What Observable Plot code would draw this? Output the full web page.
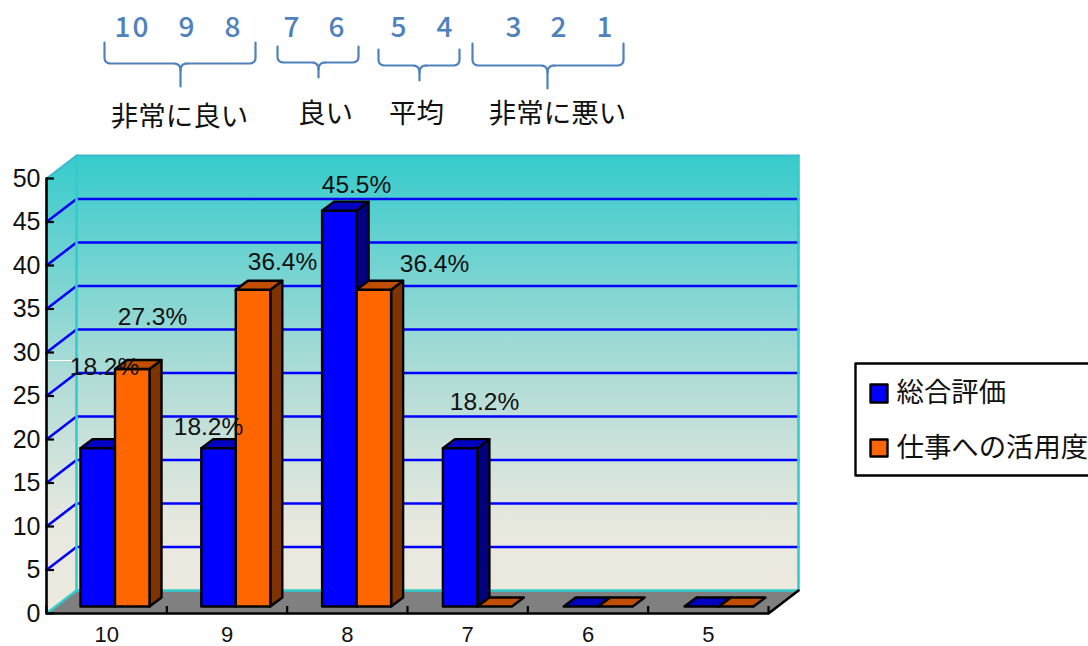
<!DOCTYPE html>
<html><head><meta charset="utf-8">
<style>html,body{margin:0;padding:0;background:#fff;overflow:hidden}svg{display:block}</style>
<script src="https://cdn.jsdelivr.net/npm/d3@7"></script>
<script src="https://cdn.jsdelivr.net/npm/@observablehq/plot@0.6"></script>
</head><body><div id="chart"></div>
<script>
// ---- data ----
const categories = ["10","9","8","7","6","5"];
const overall = [18.2,18.2,45.5,18.2,0,0];
const usefulness = [27.3,36.4,36.4,0,0,0];
const yTicks = [0,5,10,15,20,25,30,35,40,45,50];
const seriesNames = ["総合評価","仕事への活用度"];
const ratingDigits = ["10","9","8","7","6","5","4","3","2","1"];
const groupNames = ["非常に良い","良い","平均","非常に悪い"];
const valueLabels = ["18.2%","27.3%","18.2%","36.4%","45.5%","36.4%","18.2%"];

// ---- layout (pixels → data units) ----
const L=46,R=768,T=178,B=613;
const xp=p=>(p-L)/((R-L)/6), yp=p=>(B-p)/((B-T)/50);
const wallDx=xp(L+30), wallDy=yp(B-23);
const barDx=xp(L+12), barDy=yp(B-9), barW=xp(L+34.5), baseY=yp(B-7);
const barLeft=(i,s)=>xp(80+120.8*i)+s*barW;
const digitPx=[132,187,233,292,337,399,445,514,559,605];
const groupPx=[[179,117],[325,114],[416,114],[557,114]];
const labelPx=[[104,367],[152,317],[208,427],[282,262],[356,185],[434,264],[484,402]];
const braces=[[104,255,180,42,63,86],[277,358,318,46,62,77],[378,459,419,49,65,80],[472,623,547,43,65,88]];

const poly=(id,fill,pts)=>[...pts,pts[0]].map(([x,y])=>({id,fill,x,y}));
const colors=[["#0000ff","#000080","#0000c0"],["#ff6600","#7f3300","#c04d00"]];
const faces=[];
categories.forEach((c,i)=>{
  [overall[i],usefulness[i]].forEach((v,s)=>{
    const x0=barLeft(i,s),x1=x0+barW,y0=baseY,y1=baseY+v,[f,sd,t]=colors[s],k=`${i}-${s}`;
    if(v>0){
      faces.push(...poly(k+"s",sd,[[x1,y0],[x1+barDx,y0+barDy],[x1+barDx,y1+barDy],[x1,y1]]));
      faces.push(...poly(k+"f",f,[[x0,y0],[x1,y0],[x1,y1],[x0,y1]]));
    }
    faces.push(...poly(k+"t",t,[[x0,y1],[x1,y1],[x1+barDx,y1+barDy],[x0+barDx,y1+barDy]]));
  });
});
const grid=yTicks.filter(v=>v>0&&v<50).flatMap(v=>[
  {id:v,x:0,y:v},{id:v,x:wallDx,y:v+wallDy},{id:v,x:6+wallDx,y:v+wallDy}]);
const q=(a,b,c)=>d3.range(0,1.01,0.125).map(t=>[(1-t)*(1-t)*a[0]+2*t*(1-t)*b[0]+t*t*c[0],(1-t)*(1-t)*a[1]+2*t*(1-t)*b[1]+t*t*c[1]]);
const braceLines=braces.flatMap(([a,b,m,t,c,e],i)=>{
  const left=[[a,t],...q([a,c-6],[a,c],[a+7,c]),...q([m-7,c],[m,c],[m,c+7]),[m,e]];
  const right=[[m+7,c],...q([b-7,c],[b,c],[b,c-6]),[b,t]];
  const inner=q([m+7,c],[m,c],[m,c+7]);
  return [
    ...left.map(([x,y])=>({id:"b"+i+"a",x:xp(x),y:yp(y)})),
    ...right.map(([x,y])=>({id:"b"+i+"b",x:xp(x),y:yp(y)})),
    ...inner.map(([x,y])=>({id:"b"+i+"c",x:xp(x),y:yp(y)})),
  ];
});
const rectPx=(id,fill,x0,y0,x1,y1)=>poly(id,fill,[[xp(x0),yp(y0)],[xp(x1),yp(y0)],[xp(x1),yp(y1)],[xp(x0),yp(y1)]]);
const FONT='"Noto Sans CJK JP","Noto Sans",sans-serif';
const NUM='"Liberation Sans",Arial,sans-serif';
const xy=a=>a.map(([x,y])=>({x,y}));
const spaced=(px)=>(index,scales,values,dim,ctx,next)=>{const g=next(index,scales,values,dim,ctx);g.style.letterSpacing=px;return g;};
const wall="url(#wallGrad)";

const chart=Plot.plot({
  width:1088,height:646,marginLeft:L,marginRight:1088-R,marginTop:T,marginBottom:646-B,
  style:{background:"#fff",fontFamily:FONT},
  x:{domain:[0,6],axis:null},y:{domain:[0,50],axis:null},color:{type:"identity"},
  marks:[
    ()=>{const d=d3.create("svg:defs");
      const g=d.append("linearGradient").attr("id","wallGrad").attr("gradientUnits","userSpaceOnUse").attr("x1",0).attr("x2",0).attr("y1",155).attr("y2",600);
      [[0,"#36cbcc"],[0.5,"#b0dcd6"],[0.82,"#e6e8de"],[1,"#ede9df"]].forEach(([o,c])=>g.append("stop").attr("offset",o).attr("stop-color",c));
      return d.node();},
    Plot.line(poly("w","x",[[wallDx,wallDy],[6+wallDx,wallDy],[6+wallDx,50+wallDy],[wallDx,50+wallDy]]),{x:"x",y:"y",z:"id",fill:wall}),
    Plot.line(poly("l","x",[[0,0],[wallDx,wallDy],[wallDx,50+wallDy],[0,50]]),{x:"x",y:"y",z:"id",fill:wall}),
    Plot.line(poly("f","x",[[0,0],[wallDx,wallDy],[6+wallDx,wallDy],[6,0]]),{x:"x",y:"y",z:"id",fill:"#808080"}),
    Plot.line(grid,{x:"x",y:"y",z:"id",stroke:"#0000ff",strokeWidth:2.6}),
    Plot.line(xy([[0,0],[wallDx,wallDy],[6+wallDx,wallDy],[6+wallDx,50+wallDy]]),{x:"x",y:"y",stroke:"#33cccc",strokeWidth:2.6}),
    Plot.line(xy([[wallDx,wallDy],[wallDx,50+wallDy]]),{x:"x",y:"y",stroke:"#33cccc",strokeWidth:2.6}),
    Plot.line(xy([[0,50],[wallDx,50+wallDy],[6+wallDx,50+wallDy]]),{x:"x",y:"y",stroke:"#3fb8d0",strokeWidth:1.8}),
    Plot.line(xy([[xp(47),yp(360)],[xp(74),yp(360)]]),{x:"x",y:"y",stroke:"#fff",strokeWidth:1}),
    Plot.line(xy([[0,50],[0,0],[6,0],[6+wallDx,wallDy]]),{x:"x",y:"y",stroke:"#000",strokeWidth:2.6}),
    Plot.ruleY(yTicks,{y:d=>d,x1:0,x2:xp(L+8),stroke:"#000",strokeWidth:2.2}),
    Plot.ruleX(d3.range(7),{x:d=>d,y1:0,y2:yp(B-7),stroke:"#000",strokeWidth:2.2}),
    Plot.text(yTicks,{x:0,y:d=>d,text:d=>String(d),textAnchor:"end",dx:-6,fontSize:25,fontFamily:NUM,fill:"#111"}),
    Plot.text(categories,{x:(d,i)=>i+0.5,y:yp(634.5),text:d=>d,fontSize:22,fontFamily:NUM,fill:"#111"}),
    Plot.line(faces,{x:"x",y:"y",z:"id",fill:"fill",stroke:"#000",strokeWidth:2.4,strokeLinejoin:"round"}),
    Plot.text(valueLabels,{x:(d,i)=>xp(labelPx[i][0]),y:(d,i)=>yp(labelPx[i][1]),text:d=>d,fontSize:24.5,fontFamily:NUM,fill:"#111"}),
    Plot.text(ratingDigits,{x:(d,i)=>xp(digitPx[i]),y:yp(28),text:d=>d,fontSize:28,fontWeight:500,fill:"#4f81bd",render:spaced("2px")}),
    Plot.line(braceLines,{x:"x",y:"y",z:"id",stroke:"#4f81bd",strokeWidth:2.2}),
    Plot.text(groupNames,{x:(d,i)=>xp(groupPx[i][0]),y:(d,i)=>yp(groupPx[i][1]),text:d=>d,fontSize:27.5,fill:"#111"}),
    Plot.line(rectPx("box","#fff",855,363,1100,475),{x:"x",y:"y",z:"id",fill:"fill",stroke:"#000",strokeWidth:2.4}),
    Plot.line([...rectPx("s1","#0000ff",870,384,887,402),...rectPx("s2","#ff6600",870,439,887,456)],{x:"x",y:"y",z:"id",fill:"fill",stroke:"#000",strokeWidth:2.4}),
    Plot.text(seriesNames,{x:xp(896),y:(d,i)=>yp([393,448][i]),text:d=>d,textAnchor:"start",fontSize:27.4,fill:"#111"})
  ]
});
document.getElementById("chart").append(chart);
</script></body></html>
